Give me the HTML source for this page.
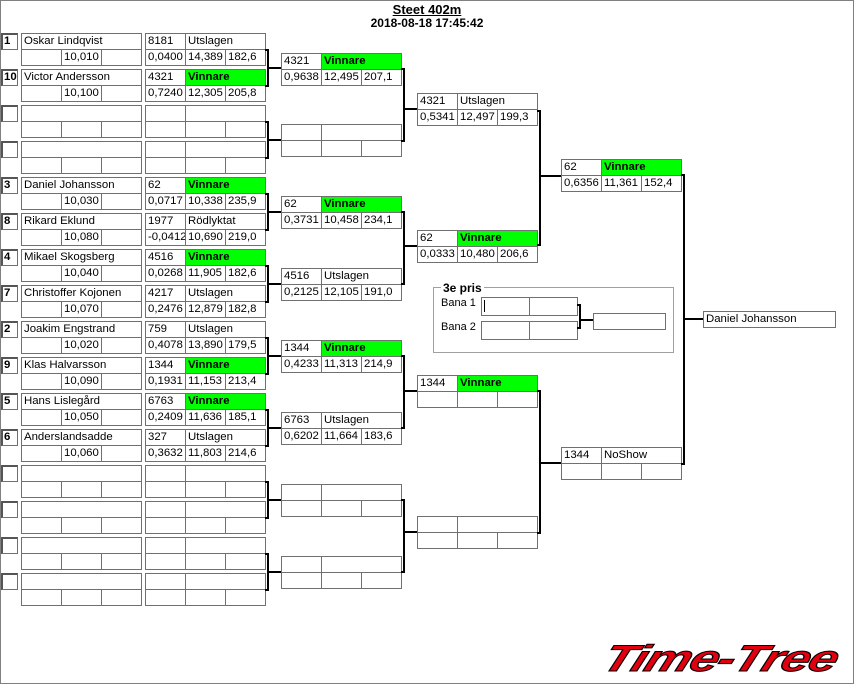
<!DOCTYPE html>
<html><head><meta charset="utf-8">
<style>
body{margin:0;width:854px;height:684px;position:relative;background:#fff;overflow:hidden;font-family:"Liberation Sans",sans-serif}
#fr{position:absolute;left:0;top:0;width:852px;height:682px;border:1px solid #808080}
.c{position:absolute;height:17px;border:1px solid #707070;box-sizing:border-box;font-size:11.4px;line-height:15px;padding-left:2px;white-space:nowrap;overflow:hidden;background:#fff;color:#000}
.w{width:41px}.n{width:121px}.r{width:81px}
.g{background:#00ff00;font-weight:bold}
.s{width:17px;font-weight:bold;border-left:2px solid #555;border-top:2px solid #555;line-height:13px;padding-left:1px}
.b{position:absolute;border:2px solid #000;border-left:0;width:2px;box-sizing:content-box}
.h{position:absolute;height:2px;background:#000}
.t{position:absolute;font-weight:bold;font-size:12px;text-align:center;width:854px;left:0}
</style></head><body>
<div id="fr"></div>
<div class="t" style="top:2px;text-decoration:underline;font-size:13px">Steet 402m</div>
<div class="t" style="top:16px">2018-08-18 17:45:42</div>

<!-- Round 1 -->
<div class="c s" style="left:1px;top:33px">1</div><div class="c n" style="left:21px;top:33px">Oskar Lindqvist</div><div class="c w" style="left:21px;top:49px"></div><div class="c w" style="left:61px;top:49px">10,010</div><div class="c w" style="left:101px;top:49px"></div>
<div class="c w" style="left:145px;top:33px">8181</div><div class="c r" style="left:185px;top:33px">Utslagen</div><div class="c w" style="left:145px;top:49px">0,0400</div><div class="c w" style="left:185px;top:49px">14,389</div><div class="c w" style="left:225px;top:49px">182,6</div>

<div class="c s" style="left:1px;top:69px">10</div><div class="c n" style="left:21px;top:69px">Victor Andersson</div><div class="c w" style="left:21px;top:85px"></div><div class="c w" style="left:61px;top:85px">10,100</div><div class="c w" style="left:101px;top:85px"></div>
<div class="c w" style="left:145px;top:69px">4321</div><div class="c r g" style="left:185px;top:69px">Vinnare</div><div class="c w" style="left:145px;top:85px">0,7240</div><div class="c w" style="left:185px;top:85px">12,305</div><div class="c w" style="left:225px;top:85px">205,8</div>

<div class="c s" style="left:1px;top:105px"></div><div class="c n" style="left:21px;top:105px"></div><div class="c w" style="left:21px;top:121px"></div><div class="c w" style="left:61px;top:121px"></div><div class="c w" style="left:101px;top:121px"></div>
<div class="c w" style="left:145px;top:105px"></div><div class="c r" style="left:185px;top:105px"></div><div class="c w" style="left:145px;top:121px"></div><div class="c w" style="left:185px;top:121px"></div><div class="c w" style="left:225px;top:121px"></div>

<div class="c s" style="left:1px;top:141px"></div><div class="c n" style="left:21px;top:141px"></div><div class="c w" style="left:21px;top:157px"></div><div class="c w" style="left:61px;top:157px"></div><div class="c w" style="left:101px;top:157px"></div>
<div class="c w" style="left:145px;top:141px"></div><div class="c r" style="left:185px;top:141px"></div><div class="c w" style="left:145px;top:157px"></div><div class="c w" style="left:185px;top:157px"></div><div class="c w" style="left:225px;top:157px"></div>

<div class="c s" style="left:1px;top:177px">3</div><div class="c n" style="left:21px;top:177px">Daniel Johansson</div><div class="c w" style="left:21px;top:193px"></div><div class="c w" style="left:61px;top:193px">10,030</div><div class="c w" style="left:101px;top:193px"></div>
<div class="c w" style="left:145px;top:177px">62</div><div class="c r g" style="left:185px;top:177px">Vinnare</div><div class="c w" style="left:145px;top:193px">0,0717</div><div class="c w" style="left:185px;top:193px">10,338</div><div class="c w" style="left:225px;top:193px">235,9</div>

<div class="c s" style="left:1px;top:213px">8</div><div class="c n" style="left:21px;top:213px">Rikard Eklund</div><div class="c w" style="left:21px;top:229px"></div><div class="c w" style="left:61px;top:229px">10,080</div><div class="c w" style="left:101px;top:229px"></div>
<div class="c w" style="left:145px;top:213px">1977</div><div class="c r" style="left:185px;top:213px">Rödlyktat</div><div class="c w" style="left:145px;top:229px">-0,0412</div><div class="c w" style="left:185px;top:229px">10,690</div><div class="c w" style="left:225px;top:229px">219,0</div>

<div class="c s" style="left:1px;top:249px">4</div><div class="c n" style="left:21px;top:249px">Mikael Skogsberg</div><div class="c w" style="left:21px;top:265px"></div><div class="c w" style="left:61px;top:265px">10,040</div><div class="c w" style="left:101px;top:265px"></div>
<div class="c w" style="left:145px;top:249px">4516</div><div class="c r g" style="left:185px;top:249px">Vinnare</div><div class="c w" style="left:145px;top:265px">0,0268</div><div class="c w" style="left:185px;top:265px">11,905</div><div class="c w" style="left:225px;top:265px">182,6</div>

<div class="c s" style="left:1px;top:285px">7</div><div class="c n" style="left:21px;top:285px">Christoffer Kojonen</div><div class="c w" style="left:21px;top:301px"></div><div class="c w" style="left:61px;top:301px">10,070</div><div class="c w" style="left:101px;top:301px"></div>
<div class="c w" style="left:145px;top:285px">4217</div><div class="c r" style="left:185px;top:285px">Utslagen</div><div class="c w" style="left:145px;top:301px">0,2476</div><div class="c w" style="left:185px;top:301px">12,879</div><div class="c w" style="left:225px;top:301px">182,8</div>

<div class="c s" style="left:1px;top:321px">2</div><div class="c n" style="left:21px;top:321px">Joakim Engstrand</div><div class="c w" style="left:21px;top:337px"></div><div class="c w" style="left:61px;top:337px">10,020</div><div class="c w" style="left:101px;top:337px"></div>
<div class="c w" style="left:145px;top:321px">759</div><div class="c r" style="left:185px;top:321px">Utslagen</div><div class="c w" style="left:145px;top:337px">0,4078</div><div class="c w" style="left:185px;top:337px">13,890</div><div class="c w" style="left:225px;top:337px">179,5</div>

<div class="c s" style="left:1px;top:357px">9</div><div class="c n" style="left:21px;top:357px">Klas Halvarsson</div><div class="c w" style="left:21px;top:373px"></div><div class="c w" style="left:61px;top:373px">10,090</div><div class="c w" style="left:101px;top:373px"></div>
<div class="c w" style="left:145px;top:357px">1344</div><div class="c r g" style="left:185px;top:357px">Vinnare</div><div class="c w" style="left:145px;top:373px">0,1931</div><div class="c w" style="left:185px;top:373px">11,153</div><div class="c w" style="left:225px;top:373px">213,4</div>

<div class="c s" style="left:1px;top:393px">5</div><div class="c n" style="left:21px;top:393px">Hans Lislegård</div><div class="c w" style="left:21px;top:409px"></div><div class="c w" style="left:61px;top:409px">10,050</div><div class="c w" style="left:101px;top:409px"></div>
<div class="c w" style="left:145px;top:393px">6763</div><div class="c r g" style="left:185px;top:393px">Vinnare</div><div class="c w" style="left:145px;top:409px">0,2409</div><div class="c w" style="left:185px;top:409px">11,636</div><div class="c w" style="left:225px;top:409px">185,1</div>

<div class="c s" style="left:1px;top:429px">6</div><div class="c n" style="left:21px;top:429px">Anderslandsadde</div><div class="c w" style="left:21px;top:445px"></div><div class="c w" style="left:61px;top:445px">10,060</div><div class="c w" style="left:101px;top:445px"></div>
<div class="c w" style="left:145px;top:429px">327</div><div class="c r" style="left:185px;top:429px">Utslagen</div><div class="c w" style="left:145px;top:445px">0,3632</div><div class="c w" style="left:185px;top:445px">11,803</div><div class="c w" style="left:225px;top:445px">214,6</div>

<div class="c s" style="left:1px;top:465px"></div><div class="c n" style="left:21px;top:465px"></div><div class="c w" style="left:21px;top:481px"></div><div class="c w" style="left:61px;top:481px"></div><div class="c w" style="left:101px;top:481px"></div>
<div class="c w" style="left:145px;top:465px"></div><div class="c r" style="left:185px;top:465px"></div><div class="c w" style="left:145px;top:481px"></div><div class="c w" style="left:185px;top:481px"></div><div class="c w" style="left:225px;top:481px"></div>
<div class="c s" style="left:1px;top:501px"></div><div class="c n" style="left:21px;top:501px"></div><div class="c w" style="left:21px;top:517px"></div><div class="c w" style="left:61px;top:517px"></div><div class="c w" style="left:101px;top:517px"></div>
<div class="c w" style="left:145px;top:501px"></div><div class="c r" style="left:185px;top:501px"></div><div class="c w" style="left:145px;top:517px"></div><div class="c w" style="left:185px;top:517px"></div><div class="c w" style="left:225px;top:517px"></div>
<div class="c s" style="left:1px;top:537px"></div><div class="c n" style="left:21px;top:537px"></div><div class="c w" style="left:21px;top:553px"></div><div class="c w" style="left:61px;top:553px"></div><div class="c w" style="left:101px;top:553px"></div>
<div class="c w" style="left:145px;top:537px"></div><div class="c r" style="left:185px;top:537px"></div><div class="c w" style="left:145px;top:553px"></div><div class="c w" style="left:185px;top:553px"></div><div class="c w" style="left:225px;top:553px"></div>
<div class="c s" style="left:1px;top:573px"></div><div class="c n" style="left:21px;top:573px"></div><div class="c w" style="left:21px;top:589px"></div><div class="c w" style="left:61px;top:589px"></div><div class="c w" style="left:101px;top:589px"></div>
<div class="c w" style="left:145px;top:573px"></div><div class="c r" style="left:185px;top:573px"></div><div class="c w" style="left:145px;top:589px"></div><div class="c w" style="left:185px;top:589px"></div><div class="c w" style="left:225px;top:589px"></div>

<!-- R1 brackets -->
<div class="b" style="left:265px;top:49px;height:34px"></div><div class="h" style="left:269px;top:67px;width:12px"></div>
<div class="b" style="left:265px;top:121px;height:34px"></div><div class="h" style="left:269px;top:139px;width:12px"></div>
<div class="b" style="left:265px;top:193px;height:34px"></div><div class="h" style="left:269px;top:211px;width:12px"></div>
<div class="b" style="left:265px;top:265px;height:34px"></div><div class="h" style="left:269px;top:283px;width:12px"></div>
<div class="b" style="left:265px;top:337px;height:34px"></div><div class="h" style="left:269px;top:355px;width:12px"></div>
<div class="b" style="left:265px;top:409px;height:34px"></div><div class="h" style="left:269px;top:427px;width:12px"></div>
<div class="b" style="left:265px;top:481px;height:34px"></div><div class="h" style="left:269px;top:499px;width:12px"></div>
<div class="b" style="left:265px;top:553px;height:34px"></div><div class="h" style="left:269px;top:571px;width:12px"></div>

<!-- Round 2 -->
<div class="c w" style="left:281px;top:53px">4321</div><div class="c r g" style="left:321px;top:53px">Vinnare</div><div class="c w" style="left:281px;top:69px">0,9638</div><div class="c w" style="left:321px;top:69px">12,495</div><div class="c w" style="left:361px;top:69px">207,1</div>
<div class="c w" style="left:281px;top:124px"></div><div class="c r" style="left:321px;top:124px"></div><div class="c w" style="left:281px;top:140px"></div><div class="c w" style="left:321px;top:140px"></div><div class="c w" style="left:361px;top:140px"></div>
<div class="c w" style="left:281px;top:196px">62</div><div class="c r g" style="left:321px;top:196px">Vinnare</div><div class="c w" style="left:281px;top:212px">0,3731</div><div class="c w" style="left:321px;top:212px">10,458</div><div class="c w" style="left:361px;top:212px">234,1</div>
<div class="c w" style="left:281px;top:268px">4516</div><div class="c r" style="left:321px;top:268px">Utslagen</div><div class="c w" style="left:281px;top:284px">0,2125</div><div class="c w" style="left:321px;top:284px">12,105</div><div class="c w" style="left:361px;top:284px">191,0</div>
<div class="c w" style="left:281px;top:340px">1344</div><div class="c r g" style="left:321px;top:340px">Vinnare</div><div class="c w" style="left:281px;top:356px">0,4233</div><div class="c w" style="left:321px;top:356px">11,313</div><div class="c w" style="left:361px;top:356px">214,9</div>
<div class="c w" style="left:281px;top:412px">6763</div><div class="c r" style="left:321px;top:412px">Utslagen</div><div class="c w" style="left:281px;top:428px">0,6202</div><div class="c w" style="left:321px;top:428px">11,664</div><div class="c w" style="left:361px;top:428px">183,6</div>
<div class="c w" style="left:281px;top:484px"></div><div class="c r" style="left:321px;top:484px"></div><div class="c w" style="left:281px;top:500px"></div><div class="c w" style="left:321px;top:500px"></div><div class="c w" style="left:361px;top:500px"></div>
<div class="c w" style="left:281px;top:556px"></div><div class="c r" style="left:321px;top:556px"></div><div class="c w" style="left:281px;top:572px"></div><div class="c w" style="left:321px;top:572px"></div><div class="c w" style="left:361px;top:572px"></div>

<!-- R2 brackets -->
<div class="b" style="left:401px;top:68px;height:70px"></div><div class="h" style="left:405px;top:108px;width:12px"></div>
<div class="b" style="left:401px;top:211px;height:70px"></div><div class="h" style="left:405px;top:245px;width:12px"></div>
<div class="b" style="left:401px;top:355px;height:70px"></div><div class="h" style="left:405px;top:390px;width:12px"></div>
<div class="b" style="left:401px;top:499px;height:70px"></div><div class="h" style="left:405px;top:531px;width:12px"></div>

<!-- Round 3 -->
<div class="c w" style="left:417px;top:93px">4321</div><div class="c r" style="left:457px;top:93px">Utslagen</div><div class="c w" style="left:417px;top:109px">0,5341</div><div class="c w" style="left:457px;top:109px">12,497</div><div class="c w" style="left:497px;top:109px">199,3</div>
<div class="c w" style="left:417px;top:230px">62</div><div class="c r g" style="left:457px;top:230px">Vinnare</div><div class="c w" style="left:417px;top:246px">0,0333</div><div class="c w" style="left:457px;top:246px">10,480</div><div class="c w" style="left:497px;top:246px">206,6</div>
<div class="c w" style="left:417px;top:375px">1344</div><div class="c r g" style="left:457px;top:375px">Vinnare</div><div class="c w" style="left:417px;top:391px"></div><div class="c w" style="left:457px;top:391px"></div><div class="c w" style="left:497px;top:391px"></div>
<div class="c w" style="left:417px;top:516px"></div><div class="c r" style="left:457px;top:516px"></div><div class="c w" style="left:417px;top:532px"></div><div class="c w" style="left:457px;top:532px"></div><div class="c w" style="left:497px;top:532px"></div>

<!-- R3 brackets -->
<div class="b" style="left:537px;top:110px;height:132px"></div><div class="h" style="left:541px;top:175px;width:20px"></div>
<div class="b" style="left:537px;top:390px;height:140px"></div><div class="h" style="left:541px;top:462px;width:20px"></div>

<!-- Round 4 -->
<div class="c w" style="left:561px;top:159px">62</div><div class="c r g" style="left:601px;top:159px">Vinnare</div><div class="c w" style="left:561px;top:175px">0,6356</div><div class="c w" style="left:601px;top:175px">11,361</div><div class="c w" style="left:641px;top:175px">152,4</div>
<div class="c w" style="left:561px;top:447px">1344</div><div class="c r" style="left:601px;top:447px">NoShow</div><div class="c w" style="left:561px;top:463px"></div><div class="c w" style="left:601px;top:463px"></div><div class="c w" style="left:641px;top:463px"></div>

<div class="b" style="left:681px;top:174px;height:287px"></div><div class="h" style="left:685px;top:318px;width:18px"></div>
<div class="c" style="left:703px;top:311px;width:133px">Daniel Johansson</div>

<!-- 3e pris -->
<div style="position:absolute;left:433px;top:287px;width:239px;height:64px;border:1px solid #a0a0a0"></div>
<div style="position:absolute;left:441px;top:281px;padding:0 2px;background:#fff;font-weight:bold;font-size:12px">3e pris</div>
<div style="position:absolute;left:441px;top:297px;font-size:11px">Bana 1</div>
<div style="position:absolute;left:441px;top:321px;font-size:11px">Bana 2</div>
<div class="c" style="left:481px;top:297px;width:49px;height:19px"><span style="display:inline-block;width:1px;height:12px;background:#000;margin-top:2px"></span></div><div class="c" style="left:529px;top:297px;width:49px;height:19px"></div>
<div class="c" style="left:481px;top:321px;width:49px;height:19px"></div><div class="c" style="left:529px;top:321px;width:49px;height:19px"></div>
<div class="b" style="left:577px;top:304px;height:21px"></div><div class="h" style="left:581px;top:319px;width:12px"></div>
<div class="c" style="left:593px;top:313px;width:73px"></div>

<!-- logo -->
<div style="position:absolute;left:612px;top:638px;font-family:'Liberation Sans',sans-serif;font-weight:bold;font-style:italic;font-size:37px;letter-spacing:-1px;color:#e00010;-webkit-text-stroke:1px #000;transform-origin:0 0;transform:scaleX(1.4) skewX(-15deg);white-space:nowrap">Time-Tree</div>
</body></html>
